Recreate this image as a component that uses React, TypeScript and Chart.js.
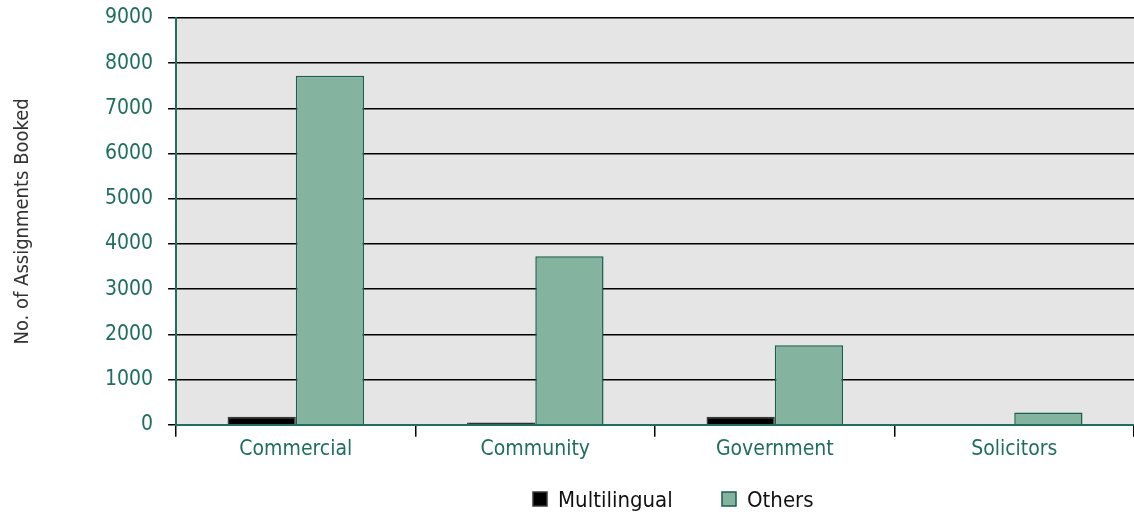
import React, { useEffect, useRef } from "react";
import { Chart, registerables } from "chart.js";

Chart.register(...registerables);

const categories = ["Commercial", "Community", "Government", "Solicitors"];
const multilingual = [180, 50, 180, 0];
const others = [7720, 3730, 1760, 270];
const yTicks = [0, 1000, 2000, 3000, 4000, 5000, 6000, 7000, 8000, 9000];

const FONT = "'Liberation Sans Narrow', 'DejaVu Sans Condensed', 'Arial Narrow', sans-serif";
const TEAL = "#1f6e5e";

const bgPlugin = {
  id: "plotBg",
  beforeDraw(chart: any) {
    const { ctx, chartArea } = chart;
    ctx.save();
    ctx.fillStyle = "#e5e5e5";
    ctx.fillRect(chartArea.left, chartArea.top, chartArea.right - chartArea.left, chartArea.bottom - chartArea.top);
    ctx.restore();
  },
};

const legendPlugin = {
  id: "customLegend",
  afterDraw(chart: any) {
    const { ctx } = chart;
    const ds = chart.data.datasets;
    const xs = [533, 722];
    const y = 500;
    ctx.save();
    ctx.font = `22px ${FONT}`;
    ctx.textBaseline = "middle";
    ds.forEach((d: any, i: number) => {
      const x = xs[i];
      ctx.fillStyle = d.backgroundColor;
      ctx.fillRect(x, y - 8, 14, 14);
      ctx.strokeStyle = d.borderColor;
      ctx.lineWidth = 1.5;
      ctx.strokeRect(x, y - 8, 14, 14);
      ctx.fillStyle = "#111";
      ctx.fillText(d.label, x + 25, y + 1);
    });
    ctx.restore();
  },
};

export default function App() {
  const ref = useRef<HTMLCanvasElement>(null);
  useEffect(() => {
    document.body.style.margin = "0";
    const chart = new Chart(ref.current!, {
      type: "bar",
      data: {
        labels: categories,
        datasets: [
          {
            label: "Multilingual",
            data: multilingual,
            backgroundColor: "#000000",
            borderColor: "#3a3a3a",
            borderWidth: 1.5,
            categoryPercentage: 0.57,
            barPercentage: 1,
          },
          {
            label: "Others",
            data: others,
            backgroundColor: "#84b49f",
            borderColor: "#1a5e4e",
            borderWidth: 1.5,
            categoryPercentage: 0.57,
            barPercentage: 1,
          },
        ],
      },
      options: {
        animation: false,
        responsive: false,
        maintainAspectRatio: false,
        layout: { padding: { top: 18, right: 0, bottom: 58, left: 7 } },
        plugins: { legend: { display: false }, tooltip: { enabled: false } },
        scales: {
          x: {
            grid: {
              offset: true,
              drawOnChartArea: false,
              drawTicks: true,
              tickLength: 12,
              color: "#000",
              lineWidth: 1.5,
            },
            border: { color: TEAL, width: 2 },
            ticks: { color: TEAL, font: { family: FONT, size: 21 }, padding: 0 },
          },
          y: {
            min: 0,
            max: 9000,
            afterBuildTicks(scale: any) {
              scale.ticks = yTicks.map((v) => ({ value: v }));
            },
            afterFit(scale: any) {
              scale.paddingTop = 0;
              scale.paddingBottom = 0;
            },
            grid: { color: "#000", lineWidth: 1.5, tickLength: 8 },
            border: { color: TEAL, width: 2 },
            ticks: {
              color: TEAL,
              font: { family: FONT, size: 21 },
              padding: 15,
              callback: (v: any) => String(v),
            },
            title: {
              display: true,
              text: "No. of Assignments Booked",
              color: "#333",
              font: { family: FONT, size: 20 },
              padding: { bottom: 55 },
            },
          },
        },
      },
      plugins: [bgPlugin, legendPlugin],
    } as any);
    return () => chart.destroy();
  }, []);
  return (
    <div style={{ position: "absolute", left: 0, top: 0, width: 1134, height: 520 }}>
      <canvas ref={ref} width={1134} height={520} style={{ width: 1134, height: 520 }} />
    </div>
  );
}
